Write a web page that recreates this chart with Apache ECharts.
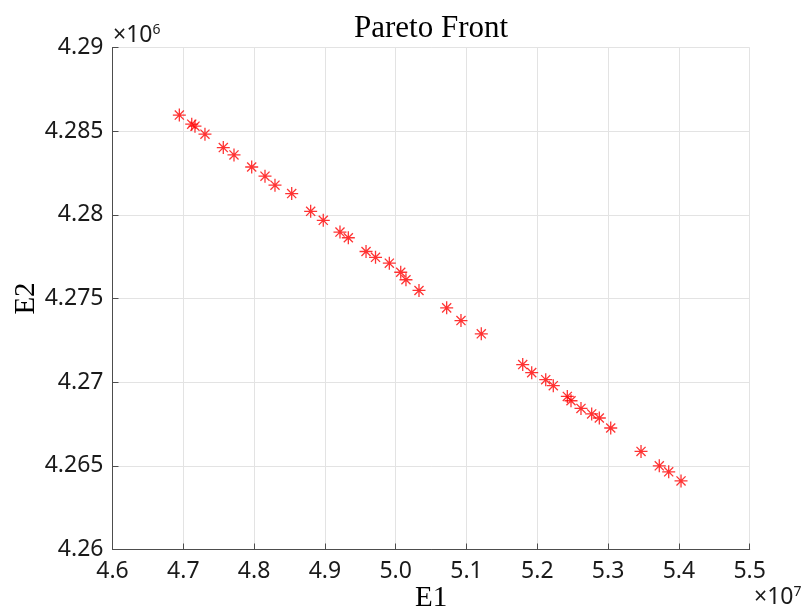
<!DOCTYPE html>
<html>
<head>
<meta charset="utf-8">
<script src="https://cdn.jsdelivr.net/npm/echarts@6/dist/echarts.min.js"></script>
<style>html,body{margin:0;padding:0;background:#fff;}#c{width:803px;height:612px;}</style>
</head>
<body>
<div id="c"></div>
<script>
// E1 values in units of 1e7, E2 values in units of 1e6
const e1 = [4.6944,4.7119,4.7165,4.7306,4.7565,4.7716,4.7966,4.8154,4.8295,4.8531,4.8799,4.8977,4.9213,4.9331,4.9581,4.9715,4.9910,5.0071,5.0145,5.0329,5.0720,5.0922,5.1209,5.1794,5.1921,5.2119,5.2226,5.2424,5.2476,5.2617,5.2768,5.2876,5.3037,5.3465,5.3723,5.3856,5.4030];
const e2 = [4.28596,4.28542,4.28530,4.28482,4.28402,4.28358,4.28286,4.28231,4.28177,4.28127,4.28021,4.27967,4.27897,4.27863,4.27781,4.27746,4.27711,4.27657,4.27612,4.27548,4.27444,4.27368,4.27289,4.27105,4.27057,4.27015,4.26979,4.26915,4.26889,4.26843,4.26810,4.26786,4.26726,4.26586,4.26500,4.26464,4.26410];
const xTickLabels = ['4.6','4.7','4.8','4.9','5.0','5.1','5.2','5.3','5.4','5.5'];
const yTickLabels = ['4.26','4.265','4.27','4.275','4.28','4.285','4.29'];
const titleText = 'Pareto Front';
const xName = 'E1', yName = 'E2';

const data = e1.map((v, i) => [v, e2[i]]);
const chart = echarts.init(document.getElementById('c'));
const axisColor = '#4d4d4d';
const gridColor = '#e3e3e3';
const labelColor = '#1a1a1a';
chart.setOption({
  animation: false,
  backgroundColor: '#fff',
  title: {
    text: titleText, left: 426, top: 8, textAlign: 'center',
    textStyle: {fontFamily: 'Liberation Serif', fontSize: 31, fontWeight: 'normal', color: '#000'}
  },
  grid: {left: 112.5, right: 53.3, top: 47.5, bottom: 62.5, containLabel: false, outerBoundsMode: 'none'},
  xAxis: {
    type: 'value', min: 4.6, max: 5.5, interval: 0.1,
    name: xName, nameLocation: 'middle', nameGap: 34, nameMoveOverlap: false,
    nameTextStyle: {fontFamily: 'Liberation Serif', fontSize: 29, color: '#000'},
    axisLine: {show: true, onZero: false, lineStyle: {color: axisColor, width: 1}},
    axisTick: {show: true, inside: true, length: 6, lineStyle: {color: axisColor}},
    axisLabel: {
      margin: 10, fontFamily: 'Noto Sans', fontSize: 23, color: labelColor,
      formatter: (v) => { const i = Math.round((v - 4.6) / 0.1); return xTickLabels[i] || ''; }
    },
    splitLine: {show: true, lineStyle: {color: gridColor, width: 1}}
  },
  yAxis: {
    type: 'value', min: 4.26, max: 4.29, interval: 0.005,
    name: yName, nameLocation: 'middle', nameGap: 72, nameRotate: 90, nameMoveOverlap: false,
    nameTextStyle: {fontFamily: 'Liberation Serif', fontSize: 29, color: '#000'},
    axisLine: {show: true, onZero: false, lineStyle: {color: axisColor, width: 1}},
    axisTick: {show: true, inside: true, length: 6, lineStyle: {color: axisColor}},
    axisLabel: {
      margin: 9, fontFamily: 'Noto Sans', fontSize: 23, color: labelColor,
      formatter: (v) => { const i = Math.round((v - 4.26) / 0.005); return yTickLabels[i] || ''; }
    },
    splitLine: {show: true, lineStyle: {color: gridColor, width: 1}}
  },
  graphic: [
    {type: 'text', left: 113, top: 23, style: {
      text: '×10{s|6}', fontFamily: 'Noto Sans', fontSize: 23, fill: labelColor,
      rich: {s: {fontSize: 14, verticalAlign: 'top', padding: [0,0,10,0], fontFamily: 'Noto Sans', fill: labelColor}}
    }},
    {type: 'text', left: 754, top: 585, style: {
      text: '×10{s|7}', fontFamily: 'Noto Sans', fontSize: 23, fill: labelColor,
      rich: {s: {fontSize: 14, verticalAlign: 'top', padding: [0,0,10,0], fontFamily: 'Noto Sans', fill: labelColor}}
    }}
  ],
  series: [{
    type: 'scatter',
    data: data,
    symbol: 'path://M0,-10L0,10M-10,0L10,0M-7,-7L7,7M-7,7L7,-7',
    symbolSize: 13,
    itemStyle: {color: 'none', borderColor: '#ff0000', borderWidth: 1.3}
  }]
});
</script>
</body>
</html>
